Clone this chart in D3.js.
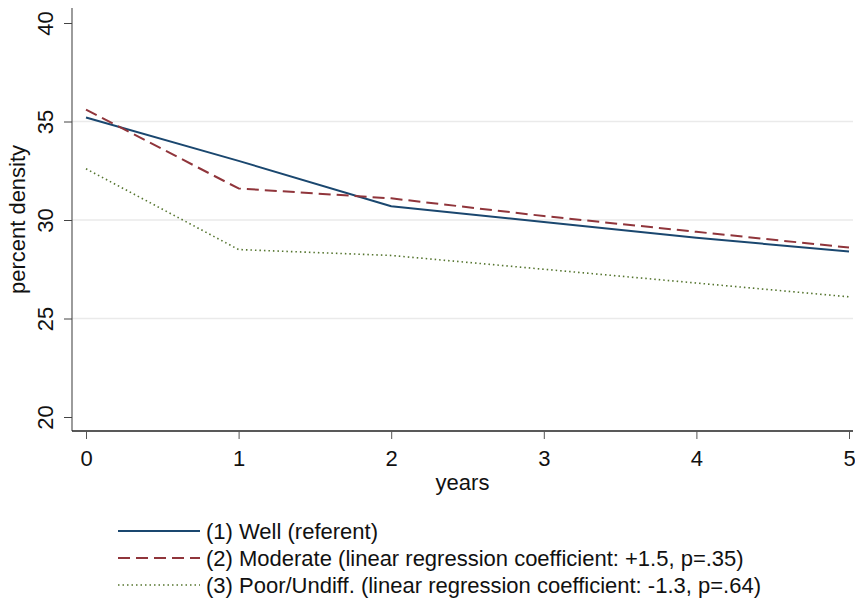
<!DOCTYPE html>
<html>
<head>
<meta charset="utf-8">
<script src="https://cdn.jsdelivr.net/npm/d3@7"></script>
<style>
  html, body { margin: 0; padding: 0; background: #fff; }
  svg { display: block; font-family: "Liberation Sans", Arial, Helvetica, sans-serif; }
</style>
</head>
<body>
<svg id="chart" width="855" height="608"></svg>
<script>
const years = [0, 1, 2, 3, 4, 5];
const wellValues = [35.2, 33.0, 30.7, 29.9, 29.1, 28.4];
const moderateValues = [35.6, 31.6, 31.1, 30.2, 29.4, 28.6];
const poorValues = [32.6, 28.5, 28.2, 27.5, 26.8, 26.1];
const yTicks = [20, 25, 30, 35, 40];
const gridTicks = [25, 30, 35];
const seriesNames = [
  "(1) Well (referent)",
  "(2) Moderate (linear regression coefficient: +1.5, p=.35)",
  "(3) Poor/Undiff. (linear regression coefficient: -1.3, p=.64)"
];

const series = [
  { name: seriesNames[0], values: wellValues, color: "#1a476f", width: 2, dash: null },
  { name: seriesNames[1], values: moderateValues, color: "#90353b", width: 2, dash: "12,6" },
  { name: seriesNames[2], values: poorValues, color: "#55752f", width: 1.6, dash: "1.5,3" }
];

const svg = d3.select("#chart");
const plotLeft = 72, plotRight = 853, plotTop = 8, plotBottom = 431;

const x = d3.scaleLinear().domain([0, 5]).range([86, 849]);
const y = d3.scaleLinear().domain([20, 40]).range([417, 23]);

// gridlines
svg.append("g").selectAll("line").data(gridTicks).join("line")
  .attr("x1", plotLeft).attr("x2", plotRight)
  .attr("y1", d => y(d)).attr("y2", d => y(d))
  .attr("stroke", "#eaeaea").attr("stroke-width", 1.5);

// y axis
const yAxis = svg.append("g").attr("transform", `translate(${plotLeft},0)`)
  .call(d3.axisLeft(y).tickValues(yTicks).tickSize(8).tickPadding(4).tickFormat(d3.format("d")));
yAxis.select(".domain").attr("d", `M0,${plotTop}V${plotBottom}`).attr("stroke", "#666").attr("stroke-width", 1.3);
yAxis.selectAll(".tick line").attr("stroke", "#444");
yAxis.selectAll(".tick text")
  .attr("font-size", 22).attr("fill", "#111")
  .attr("text-anchor", "middle")
  .attr("x", null).attr("dy", null)
  .attr("transform", "translate(-19,0) rotate(-90)");

// x axis
const xAxis = svg.append("g").attr("transform", `translate(0,${plotBottom})`)
  .call(d3.axisBottom(x).tickValues(years).tickSize(8).tickPadding(6).tickFormat(d3.format("d")));
xAxis.select(".domain").attr("d", `M${plotLeft},0H${plotRight}`).attr("stroke", "#222").attr("stroke-width", 1.3);
xAxis.selectAll(".tick line").attr("stroke", "#555");
xAxis.selectAll(".tick text").attr("font-size", 22).attr("fill", "#111").attr("dy", null).attr("y", 35);

// axis titles
svg.append("text").attr("x", (plotLeft + plotRight) / 2).attr("y", 490)
  .attr("text-anchor", "middle").attr("font-size", 22).attr("fill", "#111").text("years");
svg.append("text").attr("transform", `translate(25,${(plotTop + plotBottom) / 2}) rotate(-90)`)
  .attr("text-anchor", "middle").attr("font-size", 22).attr("fill", "#111").text("percent density");

// lines
const line = d3.line().x((d, i) => x(years[i])).y(d => y(d));
svg.append("g").selectAll("path").data(series).join("path")
  .attr("d", d => line(d.values))
  .attr("fill", "none")
  .attr("stroke", d => d.color)
  .attr("stroke-width", d => d.width)
  .attr("stroke-dasharray", d => d.dash)
  .attr("stroke-linejoin", "round");

// legend
const legend = svg.append("g");
const rowY = [531, 558, 585];
const lg = legend.selectAll("g").data(series).join("g")
  .attr("transform", (d, i) => `translate(0,${rowY[i]})`);
lg.append("line").attr("x1", 118).attr("x2", 200).attr("y1", 0).attr("y2", 0)
  .attr("stroke", d => d.color).attr("stroke-width", d => d.width)
  .attr("stroke-dasharray", d => d.dash);
lg.append("text").attr("x", 206).attr("y", 0).attr("dy", "0.35em")
  .attr("font-size", 22).attr("fill", "#111").text(d => d.name);
</script>
</body>
</html>
